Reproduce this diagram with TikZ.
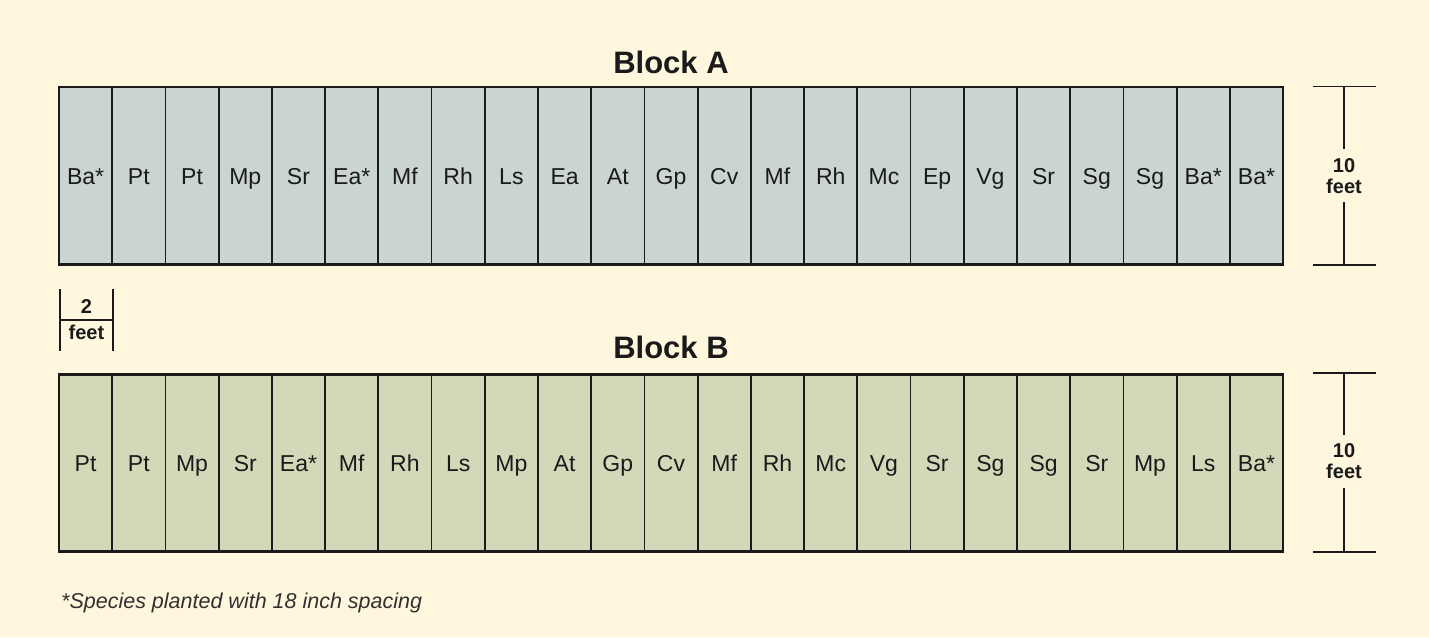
\documentclass[tikz,border=0pt]{standalone}
\usepackage{fontspec}
\setmainfont{Liberation Sans}
\definecolor{paper}{HTML}{FEF6DD}
\definecolor{blockA}{HTML}{C9D4D3}
\definecolor{blockB}{HTML}{D3D8B9}
\definecolor{ink}{HTML}{1A1A1A}
\tikzset{
  cell/.style={draw=ink, line width=1.8pt, minimum width=53.22pt, minimum height=177.5pt,
    inner sep=0pt, outer sep=0pt, text height=16.5pt, text depth=0pt,
    font=\fontsize{23}{27}\selectfont, text=ink},
  outline/.style={draw=ink, line width=2.8pt},
  title/.style={font=\fontsize{31}{36}\selectfont\bfseries, text=ink, anchor=base, inner sep=0pt},
  dimtext/.style={font=\fontsize{20}{21}\selectfont\bfseries, text=ink, align=center,
    inner sep=9pt, outer sep=0pt, text depth=0pt},
  dimlabel/.style={font=\fontsize{20}{21}\selectfont\bfseries, text=ink, anchor=base, inner sep=0pt},
  dimline/.style={draw=ink, line width=1.3pt},
  note/.style={font=\fontsize{21.5}{25}\selectfont\itshape, text=ink!90, anchor=base west, inner sep=0pt}
}
\begin{document}
\begin{tikzpicture}[x=1pt, y=-1pt]
  % page
  \fill[paper] (0,0) rectangle (1429,637);
  \useasboundingbox (0,0) rectangle (1429,637);

  % Block A
  \node[title] (titleA) at (671,73) {Block A};
  \foreach \lab [count=\i] in {Ba*,Pt,Pt,Mp,Sr,Ea*,Mf,Rh,Ls,Ea,At,Gp,Cv,Mf,Rh,Mc,Ep,Vg,Sr,Sg,Sg,Ba*,Ba*}
    \node[cell, fill=blockA] (a\i) at ({59+53.22*(\i-0.5)},175.75) {\lab};
  \draw[outline] (a1.north west) rectangle (a23.south east);

  % Block B
  \node[title] (titleB) at (671,358) {Block B};
  \foreach \lab [count=\i] in {Pt,Pt,Mp,Sr,Ea*,Mf,Rh,Ls,Mp,At,Gp,Cv,Mf,Rh,Mc,Vg,Sr,Sg,Sg,Sr,Mp,Ls,Ba*}
    \node[cell, fill=blockB] (b\i) at ({59+53.22*(\i-0.5)},463) {\lab};
  \draw[outline] (b1.north west) rectangle (b23.south east);

  % 10 feet dimension, Block A
  \coordinate (dAtl) at (1313,86.7);
  \coordinate (dAtr) at (1376,86.7);
  \coordinate (dAbl) at (1313,265);
  \coordinate (dAbr) at (1376,265);
  \coordinate (dAt) at (1344,86.7);
  \coordinate (dAb) at (1344,265);
  \node[dimtext] (dimA) at (1344,175.6) {10\\feet};
  \draw[dimline] (dAtl) -- (dAtr);
  \draw[dimline] (dAbl) -- (dAbr);
  \draw[dimline] (dAt) -- (dimA.north);
  \draw[dimline] (dimA.south) -- (dAb);

  % 10 feet dimension, Block B
  \coordinate (dBtl) at (1313,373);
  \coordinate (dBtr) at (1376,373);
  \coordinate (dBbl) at (1313,552);
  \coordinate (dBbr) at (1376,552);
  \coordinate (dBt) at (1344,373);
  \coordinate (dBb) at (1344,552);
  \node[dimtext] (dimB) at (1344,461.5) {10\\feet};
  \draw[dimline] (dBtl) -- (dBtr);
  \draw[dimline] (dBbl) -- (dBbr);
  \draw[dimline] (dBt) -- (dimB.north);
  \draw[dimline] (dimB.south) -- (dBb);

  % 2 feet spacing between blocks
  \coordinate (gLt) at (60,289);
  \coordinate (gLb) at (60,351);
  \coordinate (gRt) at (113,289);
  \coordinate (gRb) at (113,351);
  \coordinate (gMl) at (60,320);
  \coordinate (gMr) at (113,320);
  \draw[dimline] (gLt) -- (gLb);
  \draw[dimline] (gRt) -- (gRb);
  \draw[dimline] (gMl) -- (gMr);
  \node[dimlabel] (gapnum) at (86.5,313) {2};
  \node[dimlabel] (gapunit) at (86.5,339) {feet};

  % footnote
  \node[note] (footnote) at (61,608) {*Species planted with 18 inch spacing};
\end{tikzpicture}
\end{document}
